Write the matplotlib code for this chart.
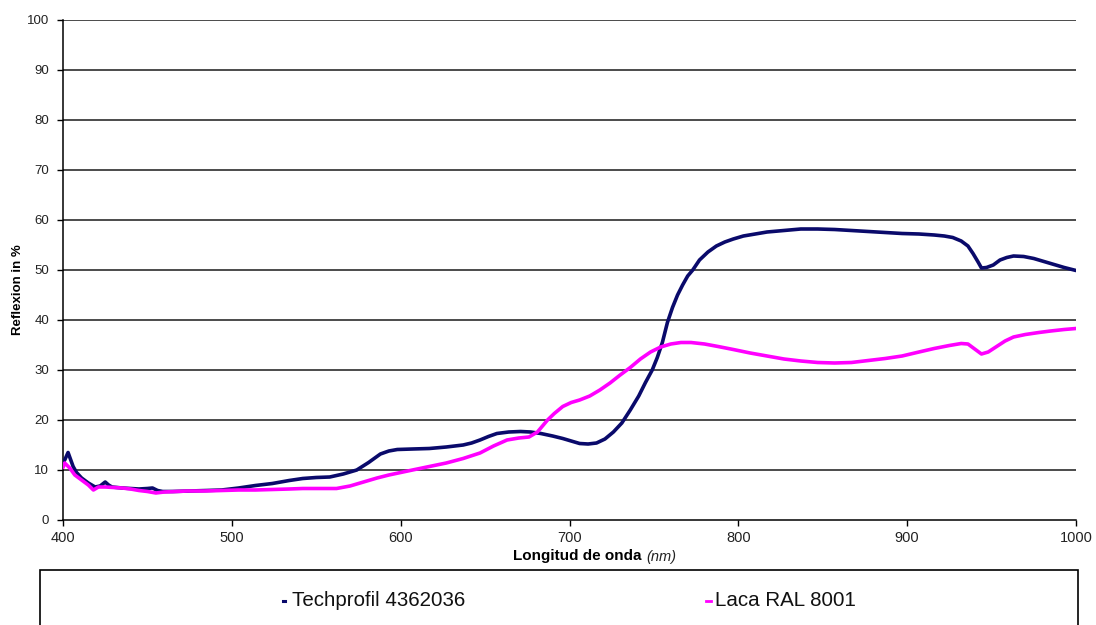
import matplotlib
matplotlib.use("Agg")
import matplotlib.pyplot as plt
from matplotlib.patches import Rectangle
from matplotlib.lines import Line2D

# ---------------- data ----------------
wl_tech = [400, 401, 403, 406, 408, 411, 415, 419, 422, 425, 427, 429, 435, 440, 445,
           450, 453, 456, 459, 465, 475, 485, 494, 504, 514, 524, 534, 542, 550, 558,
           566, 574, 581, 588, 593, 598, 607, 617, 627, 637, 642, 647, 652, 657, 664,
           671, 677, 683, 690, 696, 701, 706, 711, 716, 721, 726, 731, 736, 741, 745,
           749, 752, 755, 758, 761, 764, 767, 770, 773, 777, 782, 787, 792, 797, 803,
           810, 817, 827, 837, 847, 857, 867, 877, 887, 897, 907, 916, 922, 927, 932,
           936, 939, 942, 944, 947, 951, 955, 959, 963, 969, 975, 981, 987, 993, 1000]
ref_tech = [11.5, 12.0, 13.5, 10.7, 9.5, 8.4, 7.4, 6.6, 6.8, 7.6, 7.0, 6.6, 6.4, 6.3, 6.2,
            6.3, 6.4, 5.9, 5.7, 5.7, 5.8, 5.9, 6.0, 6.4, 6.9, 7.3, 7.9, 8.3, 8.5, 8.6,
            9.2, 10.0, 11.5, 13.2, 13.8, 14.1, 14.2, 14.3, 14.6, 15.0, 15.4, 16.0, 16.7, 17.3, 17.6,
            17.7, 17.6, 17.3, 16.8, 16.3, 15.8, 15.3, 15.2, 15.4, 16.2, 17.6, 19.4, 22.0, 24.8, 27.5,
            30.0, 32.5, 35.5, 39.5, 42.5, 45.0, 47.0, 48.8, 50.0, 52.0, 53.6, 54.8, 55.6, 56.2, 56.8,
            57.2, 57.6, 57.9, 58.2, 58.2, 58.1, 57.9, 57.7, 57.5, 57.3, 57.2, 57.0, 56.8, 56.5, 55.8,
            54.8, 53.3, 51.6, 50.4, 50.5, 51.0, 52.0, 52.5, 52.8, 52.7, 52.3, 51.7, 51.1, 50.5, 49.9]

wl_laca = [400, 401, 404, 407, 411, 415, 418, 421, 425, 430, 435, 440, 445, 450, 455,
           460, 467, 474, 484, 494, 504, 514, 524, 534, 542, 552, 562, 570, 578, 586,
           593, 600, 607, 617, 627, 637, 647, 655, 663, 670, 676, 681, 684, 687, 691,
           696, 701, 706, 712, 718, 724, 730, 736, 742, 748, 754, 760, 766, 772, 780,
           788, 797, 807, 817, 827, 837, 847, 857, 867, 877, 887, 897, 907, 916, 925,
           932, 936, 940, 944, 948, 953, 958, 963, 970, 978, 985, 993, 1000]
ref_laca = [10.5, 11.4, 10.4, 9.0, 8.0, 7.0, 6.0, 6.6, 6.6, 6.5, 6.4, 6.2, 5.9, 5.7, 5.4,
            5.6, 5.7, 5.8, 5.8, 5.9, 6.0, 6.0, 6.1, 6.2, 6.3, 6.3, 6.3, 6.8, 7.6, 8.4,
            9.0, 9.5, 10.0, 10.7, 11.4, 12.3, 13.4, 14.8, 16.0, 16.4, 16.6, 17.6, 18.8, 20.0, 21.3,
            22.7, 23.5, 24.0, 24.8, 26.0, 27.4, 29.0, 30.5, 32.2, 33.6, 34.6, 35.2, 35.5, 35.5, 35.2,
            34.7, 34.1, 33.4, 32.8, 32.2, 31.8, 31.5, 31.4, 31.5, 31.9, 32.3, 32.8, 33.6, 34.3, 34.9,
            35.3, 35.2, 34.2, 33.2, 33.6, 34.7, 35.8, 36.6, 37.1, 37.5, 37.8, 38.1, 38.3]

series_names = ["Techprofil 4362036", "Laca RAL 8001"]
x_ticks = [400, 500, 600, 700, 800, 900, 1000]
y_ticks = [0, 10, 20, 30, 40, 50, 60, 70, 80, 90, 100]

# ---------------- figure ----------------
plt.rcParams['font.family'] = ['Liberation Sans', 'DejaVu Sans']
W, H = 1096, 625
fig = plt.figure(figsize=(W / 100, H / 100), dpi=100)
ax = fig.add_axes([63 / W, 105 / H, 1013 / W, 500 / H])

navy = '#0a0a6b'
magenta = '#ff00ff'

ax.plot(wl_tech, ref_tech, color=navy, lw=2.6, solid_capstyle='round', zorder=3)
ax.plot(wl_laca, ref_laca, color=magenta, lw=2.6, solid_capstyle='round', zorder=4)

ax.set_xlim(400, 1000)
ax.set_ylim(0, 100)
ax.set_xticks(x_ticks)
ax.set_yticks(y_ticks)
ax.tick_params(axis='y', direction='out', length=4, width=1, labelsize=9.5, pad=6,
               labelcolor='#222222')
ax.tick_params(axis='x', direction='out', length=4, width=1, labelsize=10.5, pad=4,
               labelcolor='#222222')

for v in y_ticks[1:]:
    ax.axhline(v, color='#1a1a1a', lw=1.1, zorder=1)

for s in ['top', 'right']:
    ax.spines[s].set_visible(False)
for s in ['left', 'bottom']:
    ax.spines[s].set_linewidth(1.1)
    ax.spines[s].set_color('black')

# axis titles
fig.text(18 / W, 1 - 290 / H, "Reflexion in %", rotation=90, ha='center', va='center',
         fontsize=9.5, fontweight='bold')
t1 = fig.text(513 / W, 1 - 556 / H, "Longitud de onda", ha='left', va='center',
              fontsize=11, fontweight='bold')
fig.canvas.draw()
bb = t1.get_window_extent(renderer=fig.canvas.get_renderer())
fig.text((bb.x1 + 5) / W, 1 - 557 / H, "(nm)", ha='left', va='center',
         fontsize=10.5, fontstyle='italic', color='#222222')

# legend box (cut off at the bottom)
fig.patches.append(Rectangle((40 / W, -0.05), (1078 - 40) / W, 0.05 + (625 - 570) / H,
                             transform=fig.transFigure, fill=False, edgecolor='black',
                             lw=1.2))
ly = 1 - 601 / H
fig.lines.append(Line2D([282.5 / W, 284.5 / W], [ly, ly], transform=fig.transFigure,
                        color=navy, lw=2.2))
fig.text(292 / W, ly, series_names[0], ha='left', va='center', fontsize=14.8,
         color='#111111')
fig.lines.append(Line2D([706 / W, 711 / W], [ly, ly], transform=fig.transFigure,
                        color=magenta, lw=2.0))
fig.text(715 / W, ly, series_names[1], ha='left', va='center', fontsize=14.8,
         color='#111111')

fig.savefig("out.png", dpi=100)
